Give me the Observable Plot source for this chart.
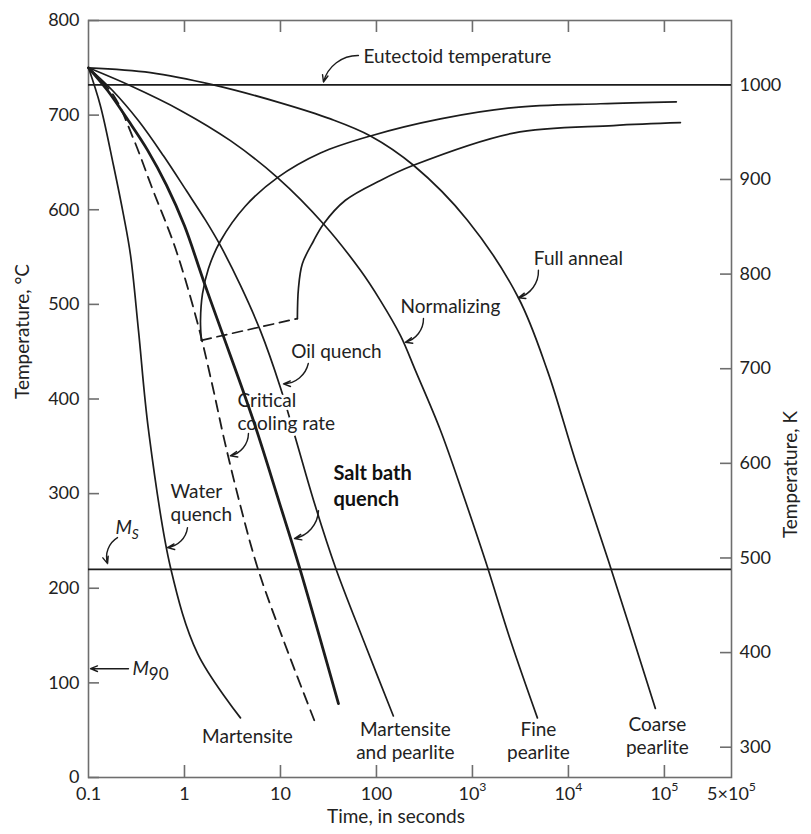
<!DOCTYPE html>
<html>
<head>
<meta charset="utf-8">
<title>Cooling curves on a continuous-cooling-transformation diagram</title>
<script src="https://cdn.jsdelivr.net/npm/d3@7"></script>
<script src="https://cdn.jsdelivr.net/npm/@observablehq/plot@0.6"></script>
<style>
  html, body { margin: 0; padding: 0; background: #fff; overflow: hidden; }
  svg { display: block; }
</style>
</head>
<body>
<div id="chart"></div>
<script>
// ---- Cooling curves: time (s) and temperature (°C) ----
const waterQuenchTime = [0.1, 0.133, 0.182, 0.232, 0.274, 0.332, 0.422, 0.715, 1.37, 3.83];
const waterQuenchTemp = [750, 710, 647, 594, 552, 472, 367, 222, 131, 63];

const criticalRateTime = [0.1, 0.182, 0.294, 0.464, 0.806, 1.37, 1.957, 2.61, 3.83, 5.76, 10.75, 23.2];
const criticalRateTemp = [750, 721, 675, 622, 559, 480, 414, 356, 287, 222, 145, 57];

const saltBathTime = [0.1, 0.158, 0.261, 0.412, 0.649, 1.0, 1.578, 2.43, 5.23, 9.77, 15.78, 40.2];
const saltBathTemp = [750, 726, 694, 663, 626, 583, 525, 472, 377, 290, 222, 78];

const oilQuenchTime = [0.1, 0.178, 0.332, 0.604, 1.049, 1.655, 2.37, 3.83, 6.19, 10, 14.3, 22.1, 37.4, 73.2, 150];
const oilQuenchTemp = [750, 726, 694, 657, 620, 589, 562, 520, 472, 412, 359, 293, 222, 145, 65];

const normalizingTime = [0.1, 0.274, 0.909, 3.01, 9.31, 28.1, 68.1, 110, 178, 255, 464, 806, 1365, 2490, 4750];
const normalizingTemp = [750, 731, 705, 673, 634, 585, 536, 504, 467, 430, 367, 298, 229, 145, 63];

const fullAnnealTime = [0.1, 0.442, 2.0, 10, 33.2, 86.6, 243, 887, 3010, 6040, 11800, 26100, 80500];
const fullAnnealTemp = [750, 745, 732, 713, 696, 678, 647, 589, 507, 430, 335, 229, 73];

// ---- Transformation start / finish curves (pearlite) ----
const startTime = [1.50, 1.468, 1.54, 1.778, 2.37, 4.32, 9.31, 26.1, 86.6, 464, 2673, 21540, 133000];
const startTemp = [462, 483, 511, 538, 567, 604, 634, 660, 678, 696, 708, 712, 714];

const finishTime = [15.0, 15.4, 16.9, 22.1, 28.1, 47.5, 110, 243, 2673, 29400, 146800];
const finishTemp = [485, 517, 543, 567, 585, 610, 631, 647, 681, 689, 692];

// dashed link between the bottoms of the start and finish curves
const noseTime = [1.50, 15.0];
const noseTemp = [462, 485];

// ---- Reference temperatures (°C) ----
const eutectoidTemp = 732;
const msTemp = 220;

// ---- Axis ticks ----
const timeTicks = [0.1, 1, 10, 100, 1e3, 1e4, 1e5, 5e5];
const timeTickLabels = ["0.1", "1", "10", "100", "10^3", "10^4", "10^5", "5×10^5"];
const innerTimeTicks = [1, 10, 100, 1e3, 1e4, 1e5];
const celsiusTicks = [0, 100, 200, 300, 400, 500, 600, 700, 800];
const kelvinTicks = [300, 400, 500, 600, 700, 800, 900, 1000];
const kelvinOffset = 268; // °C position of each kelvin tick = K − offset, as the right scale is drawn

// ---- Annotation text ----
const labelText = [
  "Eutectoid temperature", "Full anneal", "Normalizing", "Oil quench",
  "Water\nquench", "Martensite", "Martensite\nand pearlite", "Fine\npearlite", "Coarse\npearlite"
];
const labelTime = [73.2, 12700, 590, 38.3, 0.715, 4.53, 200, 4870, 84500];
const labelTemp = [763, 549.5, 499, 451, 290.6, 44.4, 39.6, 39.1, 44.4];
const labelAnchor = ["start", "middle", "middle", "middle", "start", "middle", "middle", "middle", "middle"];

const criticalLabel = "Critical\ncooling rate";
const criticalLabelTime = 3.56;
const criticalLabelTemp = 387;

const saltBathLabel = "Salt bath\nquench";
const saltBathLabelTime = 35.65;
const saltBathLabelTemp = 309.6;

const martensiteText = ["M_S", "M_90"];
const martensiteTime = [0.191, 0.287];
const martensiteTemp = [264, 115];

// ---- Leader arrows: tail (time, °C) → tip (time, °C); turn +1 clockwise, -1 anticlockwise, 0 straight ----
const arrowFromTime = [64.9, 4870, 309, 19.5, 4.64, 24.9, 1.075, 0.2005, 0.261];
const arrowFromTemp = [763, 536, 485, 437.5, 363.6, 282, 264, 253.6, 115];
const arrowToTime   = [28.05, 3013, 200, 10.75, 3.01, 14.0, 0.665, 0.158, 0.105];
const arrowToTemp   = [735, 507, 460, 416, 340, 252.6, 243, 226, 115];
const arrowTurn     = [-1, 1, 1, 1, 1, 1, 1, -1, 0];

// ---- Build tables ----
const curve = (name, times, temps) => times.map((t, i) => ({name, t, T: temps[i]}));
const thinCurves = [
  ...curve("Water quench", waterQuenchTime, waterQuenchTemp),
  ...curve("Oil quench", oilQuenchTime, oilQuenchTemp),
  ...curve("Normalizing", normalizingTime, normalizingTemp),
  ...curve("Full anneal", fullAnnealTime, fullAnnealTemp),
  ...curve("Transformation start", startTime, startTemp),
  ...curve("Transformation finish", finishTime, finishTemp)
];
const criticalCurve = curve("Critical cooling rate", criticalRateTime, criticalRateTemp);
const saltBathCurve = curve("Salt bath quench", saltBathTime, saltBathTemp);
const noseLink = curve("Nose", noseTime, noseTemp);

const labels = labelText.map((text, i) => ({text, t: labelTime[i], T: labelTemp[i], anchor: labelAnchor[i]}));
const arrows = arrowFromTime.map((t1, i) => ({
  t1, T1: arrowFromTemp[i], t2: arrowToTime[i], T2: arrowToTemp[i], turn: arrowTurn[i]
}));
const mLabels = martensiteText.map((text, i) => ({text, t: martensiteTime[i], T: martensiteTemp[i]}));

// ---- Layout ----
const W = 811, H = 834;
const mL = 88, mR = 80, mT = 20, mB = 57;
const frameW = W - mL - mR, frameH = H - mT - mB;
const ink = "#1c1c1c";
const axisGray = "#6e6e6e";
const tickLen = 12;
const tickFont = 18;
const arrowStyle = {x1: "t1", y1: "T1", x2: "t2", y2: "T2", stroke: ink, strokeWidth: 1.4, headLength: 8, headAngle: 44};

const chart = Plot.plot({
  width: W, height: H,
  marginLeft: mL, marginRight: mR, marginTop: mT, marginBottom: mB,
  x: {type: "log", domain: [0.1, 5e5], axis: null},
  y: {domain: [0, 800], axis: null},
  style: {fontFamily: "Lato, 'Open Sans', sans-serif", fontSize: "19px", color: "#222", background: "#fff"},
  marks: [
    // frame and inward-pointing ticks
    Plot.frame({stroke: axisGray, strokeWidth: 1.6}),
    Plot.tickX(innerTimeTicks, {x: d => d, insetTop: frameH - tickLen, stroke: axisGray, strokeWidth: 1.6}),
    Plot.tickX(innerTimeTicks, {x: d => d, insetBottom: frameH - tickLen, stroke: axisGray, strokeWidth: 1.6}),
    Plot.tickY(celsiusTicks, {y: d => d, insetRight: frameW - 11, stroke: axisGray, strokeWidth: 1.6}),
    Plot.tickY(kelvinTicks, {y: d => d - kelvinOffset, insetLeft: frameW - 11, stroke: axisGray, strokeWidth: 1.6}),

    // tick labels
    Plot.text(timeTicks, {x: d => d, text: (d, i) => timeTickLabels[i], frameAnchor: "bottom", dy: 22.5, fontSize: tickFont}),
    Plot.text(celsiusTicks, {y: d => d, text: d => String(d), frameAnchor: "left", dx: -9, textAnchor: "end", fontSize: tickFont}),
    Plot.text(kelvinTicks, {y: d => d - kelvinOffset, text: d => String(d), frameAnchor: "right", dx: 8, textAnchor: "start", fontSize: tickFont}),

    // axis titles
    Plot.text(["Temperature, °C"], {frameAnchor: "left", dx: -66, rotate: -90}),
    Plot.text(["Temperature, K"], {frameAnchor: "right", dx: 59, dy: 12, rotate: -90}),
    Plot.text(["Time, in seconds"], {frameAnchor: "bottom", dx: -14, dy: 45}),

    // eutectoid and martensite-start temperatures
    Plot.ruleY([eutectoidTemp, msTemp], {stroke: ink, strokeWidth: 1.7}),

    // cooling curves and transformation curves
    Plot.line(thinCurves, {x: "t", y: "T", z: "name", curve: "catmull-rom", stroke: ink, strokeWidth: 1.7}),
    Plot.line(criticalCurve, {x: "t", y: "T", curve: "catmull-rom", stroke: ink, strokeWidth: 1.8, strokeDasharray: "11,7"}),
    Plot.line(noseLink, {x: "t", y: "T", stroke: ink, strokeWidth: 1.7, strokeDasharray: "10,6"}),

    // label that interrupts the oil-quench curve
    Plot.text([criticalLabel], {x: () => criticalLabelTime, y: () => criticalLabelTemp, textAnchor: "start", lineHeight: 1.2, fill: "#222", stroke: "#fff", strokeWidth: 6}),

    Plot.line(saltBathCurve, {x: "t", y: "T", curve: "catmull-rom", stroke: ink, strokeWidth: 2.8}),

    // annotations
    Plot.text(labels.filter(d => d.anchor === "start"), {x: "t", y: "T", text: "text", textAnchor: "start", lineHeight: 1.2}),
    Plot.text(labels.filter(d => d.anchor === "middle"), {x: "t", y: "T", text: "text", textAnchor: "middle", lineHeight: 1.2}),
    Plot.text([saltBathLabel], {x: () => saltBathLabelTime, y: () => saltBathLabelTemp, textAnchor: "start", lineHeight: 1.3,
      fontWeight: 700, fontSize: 20, fill: "#111"}),
    Plot.text(mLabels, {x: "t", y: "T", text: "text", textAnchor: "start", fontStyle: "italic", fontSize: 19}),

    // leader arrows
    Plot.arrow(arrows.filter(d => d.turn > 0), {...arrowStyle, bend: 38}),
    Plot.arrow(arrows.filter(d => d.turn < 0), {...arrowStyle, bend: -38}),
    Plot.arrow(arrows.filter(d => d.turn === 0), {...arrowStyle})
  ]
});

// Turn "a^b" into a superscript and "a_b" into a subscript.
d3.select(chart).selectAll("text").each(function () {
  if (this.childElementCount) return;
  const m = this.textContent.match(/^(.*?)([\^_])(.+)$/);
  if (!m) return;
  const [, base, mark, script] = m;
  const el = d3.select(this);
  el.text(null);
  el.append("tspan").text(base);
  const digits = /^\d+$/.test(script);
  const s = el.append("tspan").text(script);
  if (mark === "^") {
    s.attr("font-size", "0.68em").attr("dy", "-0.7em");
  } else {
    s.attr("font-size", digits ? "0.9em" : "0.72em")
     .attr("dy", digits ? "0.3em" : "0.4em")
     .attr("font-style", digits ? "normal" : "italic");
  }
});

document.getElementById("chart").append(chart);
</script>
</body>
</html>
